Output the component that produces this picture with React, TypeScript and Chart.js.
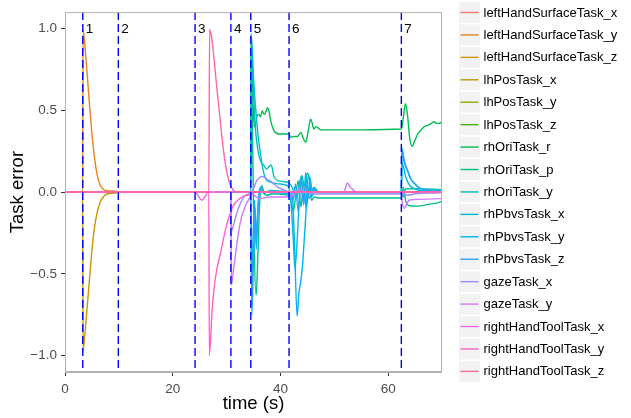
import React, { useEffect, useRef } from 'react';
import { Chart, registerables } from 'chart.js';

Chart.register(...registerables);

type Pt = [number, number];

const seriesNames = [
  'leftHandSurfaceTask_x', 'leftHandSurfaceTask_y', 'leftHandSurfaceTask_z',
  'lhPosTask_x', 'lhPosTask_y', 'lhPosTask_z',
  'rhOriTask_r', 'rhOriTask_p', 'rhOriTask_y',
  'rhPbvsTask_x', 'rhPbvsTask_y', 'rhPbvsTask_z',
  'gazeTask_x', 'gazeTask_y',
  'rightHandToolTask_x', 'rightHandToolTask_y', 'rightHandToolTask_z',
];

const phaseTimes = [3.3, 9.9, 24.15, 30.8, 34.5, 41.6, 62.45];
const phaseLabels = ['1', '2', '3', '4', '5', '6', '7'];
const xTicks = [0, 20, 40, 60];
const yTicks = [-1, -0.5, 0, 0.5, 1];

const lhSurfX: Pt[] = [[0, 0], [70, 0]];
const lhSurfY: Pt[] = [[0, 0], [3.3, 0], [3.35, 0.99], [3.6, 0.93], [4.0, 0.77], [4.4, 0.6], [4.8, 0.43], [5.2, 0.29], [5.6, 0.18], [6.0, 0.1], [6.5, 0.045], [7.0, 0.02], [7.8, 0.008], [9.8, 0.004], [9.9, 0], [70, 0]];
const lhSurfZ: Pt[] = [[0, 0], [3.3, 0], [3.35, -0.97], [3.6, -0.9], [4.0, -0.75], [4.4, -0.59], [4.8, -0.43], [5.2, -0.29], [5.6, -0.19], [6.0, -0.12], [6.5, -0.065], [7.0, -0.035], [7.8, -0.012], [9.8, -0.003], [9.9, 0], [70, 0]];
const lhPosX: Pt[] = [[0, 0], [70, 0]];
const lhPosY: Pt[] = [[0, 0], [70, 0]];
const lhPosZ: Pt[] = [[0, 0], [70, 0]];
const rhOriR: Pt[] = [[0, 0], [34.5, 0], [34.55, 0.97], [34.8, 0.7], [35.1, 0.4], [35.4, 0.42], [35.7, 0.47], [36.0, 0.475], [36.3, 0.46], [36.6, 0.495], [37.0, 0.475], [37.3, 0.49], [37.6, 0.515], [37.9, 0.49], [38.2, 0.435], [38.8, 0.375], [39.7, 0.355], [40.5, 0.355], [41.6, 0.355], [41.9, 0.335], [42.5, 0.34], [43.2, 0.34], [43.8, 0.365], [44.2, 0.33], [44.7, 0.305], [45.1, 0.36], [45.6, 0.445], [45.9, 0.42], [46.2, 0.385], [46.6, 0.4], [46.9, 0.395], [47.5, 0.38], [55, 0.38], [62.45, 0.385], [62.8, 0.45], [63.2, 0.54], [63.6, 0.47], [64.0, 0.33], [64.5, 0.28], [64.9, 0.31], [65.5, 0.355], [66.0, 0.375], [66.7, 0.4], [67.5, 0.41], [68.0, 0.42], [68.5, 0.43], [69.0, 0.42], [69.5, 0.42], [70, 0.43]];
const rhOriP: Pt[] = [[0, 0], [34.5, 0], [34.6, 0.9], [34.85, 0.3], [35.1, -0.3], [35.5, -0.63], [35.8, -0.4], [36.1, -0.1], [36.5, 0.04], [37.0, -0.01], [37.5, -0.02], [38.5, -0.01], [41.6, -0.02], [42.0, -0.06], [42.4, -0.12], [42.8, -0.03], [43.3, 0.07], [43.8, -0.09], [44.3, 0.06], [44.8, -0.1], [45.3, 0.03], [45.8, -0.05], [46.3, -0.03], [47, -0.036], [62.45, -0.036], [62.8, 0.03], [63.3, -0.06], [63.8, -0.082], [65.5, -0.086], [67.5, -0.075], [69.2, -0.066], [70, -0.055]];
const rhOriY: Pt[] = [[0, 0], [34.5, 0], [34.6, 0.93], [35.0, 0.6], [35.4, 0.37], [35.8, 0.26], [36.3, 0.19], [36.9, 0.165], [37.4, 0.14], [38.0, 0.16], [38.3, 0.165], [38.8, 0.095], [39.5, 0.07], [40.7, 0.064], [41.6, 0.055], [42.0, 0.04], [42.5, 0.0], [43.0, -0.04], [43.5, 0.05], [44.0, 0.1], [44.5, 0.02], [45.0, 0.115], [45.4, 0.08], [45.8, -0.03], [46.3, 0.01], [47, -0.005], [62.45, -0.005], [62.8, -0.03], [63.3, 0.02], [64.5, 0.02], [70, 0.015]];
const rhPbvsX: Pt[] = [[0, 0], [34.5, 0], [34.6, 0.95], [35.0, 0.7], [35.5, 0.47], [35.9, 0.33], [36.3, 0.235], [36.8, 0.13], [37.3, 0.08], [37.8, 0.065], [39.5, 0.05], [41.3, 0.04], [41.6, 0.02], [42.0, -0.08], [42.4, -0.3], [42.7, -0.47], [43.1, -0.3], [43.5, -0.05], [43.9, 0.1], [44.3, -0.06], [44.7, 0.12], [45.1, -0.03], [45.5, 0.09], [45.9, 0.0], [46.4, 0.025], [47, 0.0], [62.45, 0.0], [62.6, 0.18], [63.2, 0.1], [64, 0.04], [65, 0.02], [66, 0.01], [70, 0.005]];
const rhPbvsY: Pt[] = [[0, 0], [34.5, 0], [34.65, -0.6], [34.9, -0.3], [35.2, -0.05], [35.5, -0.35], [35.8, -0.12], [36.3, 0.02], [37.0, -0.01], [38, 0.01], [41.6, 0.0], [42.2, -0.02], [42.6, -0.3], [43.1, -0.76], [43.4, -0.63], [43.8, -0.54], [44.1, -0.45], [44.4, -0.3], [44.7, -0.15], [45.0, 0.05], [45.3, 0.1], [45.7, -0.02], [46.2, 0.03], [47, 0.0], [62.45, 0.0], [62.55, 0.25], [63.0, 0.18], [63.6, 0.13], [64.2, 0.08], [64.9, 0.05], [65.8, 0.025], [66.7, 0.014], [68, 0.01], [70, 0.008]];
const rhPbvsZ: Pt[] = [[0, 0], [34.5, 0], [34.7, -0.75], [35.0, -0.4], [35.3, -0.1], [35.6, -0.28], [35.9, -0.05], [36.4, 0.03], [37, 0.0], [41.6, -0.01], [42.3, -0.05], [42.8, 0.05], [43.3, -0.12], [43.8, 0.08], [44.3, -0.08], [44.8, 0.06], [45.3, -0.04], [46, 0.02], [47, 0], [62.45, 0], [62.55, 0.27], [63.0, 0.19], [63.6, 0.134], [64.2, 0.08], [64.9, 0.054], [65.8, 0.025], [66.7, 0.014], [68, 0.006], [70, 0.004]];
const gazeX: Pt[] = [[0, 0], [30.8, 0], [30.9, -0.24], [31.3, -0.2], [31.8, -0.14], [32.3, -0.09], [32.9, -0.046], [33.5, -0.02], [34.5, -0.005], [35, 0.02], [35.6, 0.07], [36.2, 0.09], [36.6, 0.095], [37.2, 0.085], [38.2, 0.066], [39.5, 0.03], [40.6, 0.014], [41.6, 0.0], [42.5, -0.01], [43.5, 0.02], [44.3, 0.03], [45, 0.0], [46, -0.012], [62.45, -0.012], [63, -0.01], [63.6, -0.02], [65, -0.01], [70, -0.005]];
const gazeY: Pt[] = [[0, 0], [30.8, 0], [30.9, -0.57], [31.3, -0.47], [31.7, -0.37], [32.3, -0.23], [32.8, -0.15], [33.2, -0.11], [33.7, -0.07], [34.1, -0.046], [34.5, -0.02], [34.8, -0.01], [35.5, -0.03], [36.2, -0.04], [37, -0.035], [38, -0.03], [41.6, -0.03], [42.3, -0.02], [43.5, 0.01], [44.3, 0.0], [51.8, 0], [52.4, 0.055], [53.0, 0.03], [54.3, 0], [62.45, 0], [62.6, -0.06], [63.0, -0.1], [63.5, -0.07], [63.9, -0.05], [65, -0.045], [70, -0.04]];
const rhToolX: Pt[] = [[0, 0], [24.2, 0], [24.7, -0.02], [25.4, -0.05], [26.0, -0.03], [26.5, 0], [70, 0]];
const rhToolY: Pt[] = [[0, 0], [26.7, 0], [26.8, -1.0], [27.3, -0.73], [27.9, -0.53], [28.9, -0.37], [29.8, -0.23], [31.0, -0.1], [31.8, -0.06], [32.6, -0.036], [33.5, -0.022], [34.4, -0.016], [34.6, 0], [70, 0]];
const rhToolZ: Pt[] = [[0, 0], [26.7, 0], [26.85, 0.995], [27.2, 0.95], [27.6, 0.84], [28.0, 0.7], [28.5, 0.54], [29.0, 0.38], [29.5, 0.235], [30.0, 0.13], [30.4, 0.074], [30.9, 0.03], [31.3, 0.01], [32, 0.002], [70, 0]];

const seriesData: Pt[][] = [
  lhSurfX, lhSurfY, lhSurfZ, lhPosX, lhPosY, lhPosZ,
  rhOriR, rhOriP, rhOriY, rhPbvsX, rhPbvsY, rhPbvsZ,
  gazeX, gazeY, rhToolX, rhToolY, rhToolZ,
];

// ggplot2 default hue palette (HCL, c=100, l=65)
function hcl(h: number, c = 100, l = 65): string {
  const hr = (h * Math.PI) / 180;
  const u = c * Math.cos(hr);
  const v = c * Math.sin(hr);
  const Xn = 95.047, Yn = 100, Zn = 108.883;
  const Y = Yn * Math.pow((l + 16) / 116, 3);
  const den = Xn + 15 * Yn + 3 * Zn;
  const un = (4 * Xn) / den, vn = (9 * Yn) / den;
  const up = u / (13 * l) + un, vp = v / (13 * l) + vn;
  const X = (Y * 9 * up) / (4 * vp);
  const Z = (Y * (12 - 3 * up - 20 * vp)) / (4 * vp);
  const x = X / 100, y = Y / 100, z = Z / 100;
  const r = 3.240479 * x - 1.53715 * y - 0.498535 * z;
  const g = -0.969256 * x + 1.875992 * y + 0.041556 * z;
  const b = 0.055648 * x - 0.204043 * y + 1.057311 * z;
  const gam = (t: number) => (t <= 0.0031308 ? 12.92 * t : 1.055 * Math.pow(t, 1 / 2.4) - 0.055);
  const to = (t: number) => {
    const s = Math.round(Math.min(1, Math.max(0, gam(t))) * 255);
    return s.toString(16).padStart(2, '0');
  };
  return '#' + to(r) + to(g) + to(b);
}

const nSeries = seriesNames.length;
const seriesColors = seriesNames.map((_, i) => hcl(15 + (i * 360) / nSeries));

const FONT = '"Liberation Sans", Arial, Helvetica, sans-serif';

const overlayPlugin = {
  id: 'overlay',
  afterDatasetsDraw(chart: any) {
    const { ctx, chartArea, scales } = chart;
    const xs = scales.x, ys = scales.y;
    ctx.save();
    ctx.beginPath();
    ctx.rect(chartArea.left, chartArea.top, chartArea.right - chartArea.left, chartArea.bottom - chartArea.top);
    ctx.clip();
    ctx.strokeStyle = '#0000ff';
    ctx.lineWidth = 1.4;
    ctx.setLineDash([8, 4]);
    phaseTimes.forEach((t) => {
      const px = xs.getPixelForValue(t);
      ctx.beginPath();
      ctx.moveTo(px, chartArea.top);
      ctx.lineTo(px, chartArea.bottom);
      ctx.stroke();
    });
    ctx.setLineDash([]);
    ctx.fillStyle = '#000000';
    ctx.font = `13.5px ${FONT}`;
    ctx.textAlign = 'left';
    ctx.textBaseline = 'middle';
    const ly = ys.getPixelForValue(1.0);
    phaseTimes.forEach((t, i) => {
      ctx.fillText(phaseLabels[i], xs.getPixelForValue(t) + 3, ly + 1);
    });
    ctx.restore();

    // panel border
    ctx.save();
    ctx.strokeStyle = '#b3b3b3';
    ctx.lineWidth = 1;
    ctx.strokeRect(chartArea.left + 0.5, chartArea.top + 0.5, chartArea.right - chartArea.left - 1, chartArea.bottom - chartArea.top - 1);
    ctx.lineWidth = 2;
    ctx.beginPath();
    ctx.moveTo(chartArea.left, chartArea.bottom);
    ctx.lineTo(chartArea.right, chartArea.bottom);
    ctx.stroke();
    ctx.restore();
  },
  afterDraw(chart: any) {
    const { ctx } = chart;
    ctx.save();
    const boxX = 459, boxW = 21, boxH = 21, pitch = 22.43, top0 = 2;
    ctx.font = `13px ${FONT}`;
    ctx.textAlign = 'left';
    ctx.textBaseline = 'middle';
    seriesNames.forEach((name, i) => {
      const top = top0 + i * pitch;
      ctx.fillStyle = '#f2f2f2';
      ctx.fillRect(boxX, top, boxW, boxH);
      ctx.strokeStyle = seriesColors[i];
      ctx.lineWidth = 1.4;
      ctx.beginPath();
      ctx.moveTo(boxX + 1.5, top + boxH / 2);
      ctx.lineTo(boxX + boxW - 1.5, top + boxH / 2);
      ctx.stroke();
      ctx.fillStyle = '#000000';
      ctx.fillText(name, 483.5, top + boxH / 2 + 0.5);
    });
    ctx.restore();
  },
};

export default function App() {
  const ref = useRef<HTMLCanvasElement>(null);
  useEffect(() => {
    document.body.style.margin = '0';
    const canvas = ref.current!;
    const datasets = seriesNames.map((name, i) => ({
      label: name,
      data: seriesData[i].map(([x, y]) => ({ x, y })),
      borderColor: seriesColors[i],
      backgroundColor: seriesColors[i],
      borderWidth: 1.4,
      pointRadius: 0,
      fill: false,
      cubicInterpolationMode: 'monotone' as const,
      order: nSeries - i,
    }));
    const chart = new Chart(canvas, {
      type: 'line',
      data: { datasets },
      plugins: [overlayPlugin],
      options: {
        animation: false,
        responsive: false,
        events: [],
        layout: { padding: { top: 6, right: 189, bottom: 0, left: 0 } },
        plugins: { legend: { display: false }, tooltip: { enabled: false } },
        scales: {
          x: {
            type: 'linear',
            min: 0,
            max: 70,
            afterBuildTicks: (s: any) => {
              s.ticks = xTicks.map((v) => ({ value: v }));
            },
            afterFit: (s: any) => {
              s.height = 46;
            },
            grid: { display: true, drawOnChartArea: false, drawTicks: true, tickLength: 4, color: '#333333', lineWidth: 1 },
            border: { display: false },
            ticks: {
              font: { family: FONT, size: 13.5 },
              color: '#4d4d4d',
              padding: 5,
              maxRotation: 0,
              autoSkip: false,
              callback: (v: any) => String(v),
            },
            title: {
              display: true,
              text: 'time (s)',
              color: '#000000',
              font: { family: FONT, size: 18.5 },
              padding: { top: 0, bottom: 3 },
            },
          },
          y: {
            type: 'linear',
            min: -1.1,
            max: 1.1,
            afterBuildTicks: (s: any) => {
              s.ticks = yTicks.map((v) => ({ value: v }));
            },
            afterFit: (s: any) => {
              s.width = 65;
            },
            grid: { display: true, drawOnChartArea: false, drawTicks: true, tickLength: 4, color: '#333333', lineWidth: 1 },
            border: { display: false },
            ticks: {
              font: { family: FONT, size: 13.5 },
              color: '#4d4d4d',
              padding: 4,
              autoSkip: false,
              callback: (v: any) => Number(v).toFixed(1).replace('-', '\u2212'),
            },
            title: {
              display: true,
              text: 'Task error',
              color: '#000000',
              font: { family: FONT, size: 18.5 },
              padding: { top: 7, bottom: 0 },
            },
          },
        },
      },
    });
    return () => chart.destroy();
  }, []);
  return (
    <div style={{ width: 631, height: 418, position: 'relative' }}>
      <canvas ref={ref} width={631} height={418} style={{ width: 631, height: 418, display: 'block' }} />
    </div>
  );
}
